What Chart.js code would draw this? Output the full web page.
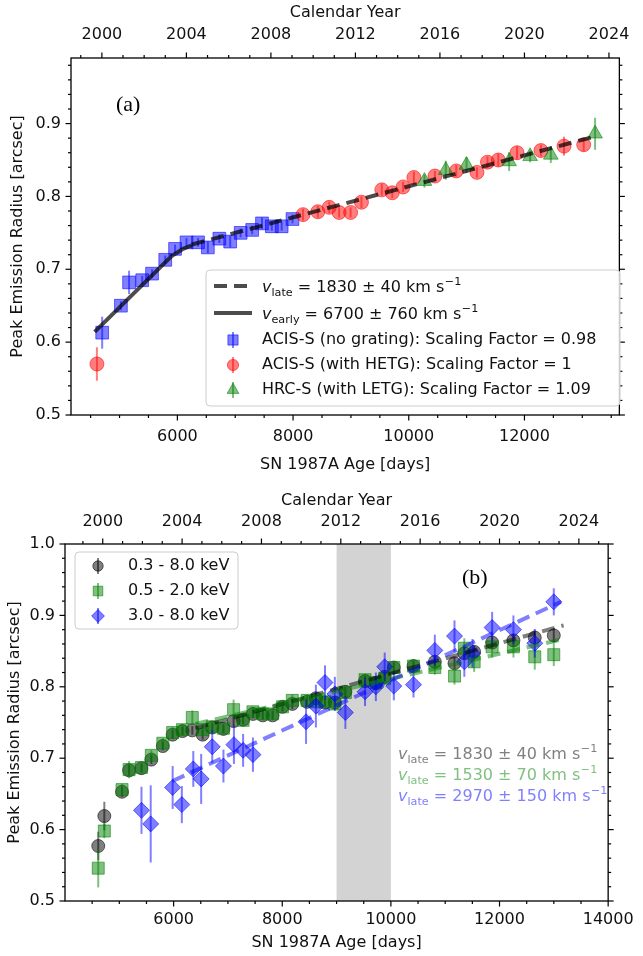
<!DOCTYPE html>
<html>
<head>
<meta charset="utf-8">
<script src="https://cdn.jsdelivr.net/npm/chart.js@4.4.1/dist/chart.umd.min.js"></script>
<style>
  html, body { margin: 0; padding: 0; background: #fff; }
  #wrap { position: relative; width: 643px; height: 956px; overflow: hidden; }
  canvas { position: absolute; left: 0; }
  #panelA { top: 0; }
  #panelB { top: 478px; }
</style>
</head>
<body>
<div id="wrap">
  <canvas id="panelA" width="643" height="480" style="width:643px;height:480px"></canvas>
  <canvas id="panelB" width="643" height="478" style="width:643px;height:478px"></canvas>
</div>
<script>
// ---------- Panel (a): ring radius by instrument ----------
const acisDays   = [4700, 5024, 5165, 5392, 5562, 5790, 5960, 6158, 6357, 6527, 6726, 6913, 7094, 7293, 7463, 7633, 7803, 7990];
const acisRadius = [0.613, 0.650, 0.682, 0.685, 0.694, 0.713, 0.728, 0.737, 0.737, 0.730, 0.742, 0.738, 0.750, 0.754, 0.763, 0.759, 0.759, 0.769];
const acisErr    = [0.022, 0.006, 0.016, 0.006, 0.006, 0.006, 0.006, 0.006, 0.006, 0.008, 0.006, 0.008, 0.006, 0.006, 0.008, 0.006, 0.006, 0.006];

const hetgDays   = [4609, 8173, 8428, 8626, 8796, 8995, 9182, 9534, 9715, 9902, 10089, 10453, 10821, 11179, 11361, 11548, 11872, 12285, 12684, 13024];
const hetgRadius = [0.570, 0.775, 0.779, 0.785, 0.778, 0.778, 0.792, 0.809, 0.805, 0.813, 0.826, 0.828, 0.835, 0.833, 0.847, 0.850, 0.860, 0.863, 0.869, 0.871];
const hetgErr    = [0.023, 0.008, 0.008, 0.008, 0.007, 0.007, 0.008, 0.008, 0.007, 0.007, 0.008, 0.007, 0.008, 0.007, 0.008, 0.009, 0.009, 0.008, 0.013, 0.009];

const letgDays   = [10271, 10640, 10998, 11735, 12098, 12456, 13221];
const letgRadius = [0.821, 0.836, 0.843, 0.848, 0.855, 0.857, 0.886];
const letgErr    = [0.009, 0.013, 0.011, 0.013, 0.008, 0.011, 0.022];

const earlyFitDays   = [4570, 5900, 6100, 6250];
const earlyFitRadius = [0.614, 0.718, 0.728, 0.733];
const lateFitDays    = [6250, 13250];
const lateFitRadius  = [0.734, 0.883];

// ---------- Panel (b): ring radius by energy band ----------
const bandDays = [4612, 4724, 5050, 5180, 5408, 5589, 5801, 5982, 6163, 6344, 6534, 6711, 6917, 7104, 7279, 7460, 7641, 7822, 8004, 8185, 8456, 8619, 8787, 8968, 9162, 9524, 9723, 9886, 10054, 10416, 10809, 11171, 11352, 11533, 11864, 12256, 12649, 12999];
const fullBandRadius = [0.577, 0.619, 0.653, 0.683, 0.686, 0.698, 0.717, 0.733, 0.738, 0.739, 0.733, 0.743, 0.741, 0.752, 0.754, 0.762, 0.760, 0.760, 0.772, 0.776, 0.779, 0.784, 0.778, 0.778, 0.793, 0.808, 0.805, 0.814, 0.827, 0.829, 0.835, 0.833, 0.847, 0.849, 0.862, 0.865, 0.869, 0.872];
const fullBandErr    = [0.020, 0.020, 0.007, 0.007, 0.006, 0.006, 0.006, 0.006, 0.006, 0.006, 0.007, 0.006, 0.006, 0.008, 0.006, 0.006, 0.006, 0.006, 0.006, 0.007, 0.007, 0.007, 0.006, 0.006, 0.007, 0.007, 0.006, 0.007, 0.007, 0.007, 0.008, 0.008, 0.008, 0.009, 0.009, 0.009, 0.010, 0.010];
const softBandRadius = [0.546, 0.598, 0.656, 0.684, 0.687, 0.704, 0.721, 0.736, 0.740, 0.757, 0.740, 0.744, 0.742, 0.768, 0.753, 0.765, 0.762, 0.762, 0.772, 0.781, 0.781, 0.779, 0.779, 0.776, 0.792, 0.810, 0.806, 0.812, 0.827, 0.829, 0.827, 0.815, 0.854, 0.835, 0.856, 0.856, 0.842, 0.845];
const softBandErr    = [0.027, 0.010, 0.008, 0.012, 0.007, 0.007, 0.007, 0.007, 0.007, 0.010, 0.007, 0.007, 0.007, 0.014, 0.007, 0.007, 0.007, 0.007, 0.007, 0.008, 0.008, 0.008, 0.008, 0.008, 0.008, 0.008, 0.008, 0.008, 0.009, 0.010, 0.010, 0.012, 0.014, 0.014, 0.015, 0.015, 0.018, 0.016];

const hardDays   = [5408, 5578, 5982, 6151, 6362, 6507, 6711, 6917, 7110, 7279, 7460, 8438, 8619, 8787, 8968, 9162, 9524, 9723, 9886, 10054, 10416, 10809, 11171, 11352, 11502, 11864, 12256, 12649, 12999];
const hardRadius = [0.627, 0.608, 0.659, 0.635, 0.685, 0.671, 0.716, 0.689, 0.719, 0.711, 0.705, 0.751, 0.773, 0.806, 0.790, 0.764, 0.793, 0.800, 0.828, 0.801, 0.803, 0.851, 0.871, 0.835, 0.847, 0.883, 0.880, 0.861, 0.919];
const hardErr    = [0.033, 0.054, 0.030, 0.026, 0.025, 0.035, 0.023, 0.023, 0.027, 0.023, 0.024, 0.031, 0.030, 0.024, 0.024, 0.023, 0.020, 0.020, 0.020, 0.020, 0.018, 0.022, 0.022, 0.021, 0.020, 0.022, 0.020, 0.020, 0.019];

const fullFitDays = [6400, 13180], fullFitRadius = [0.742, 0.886];
const softFitDays = [6400, 13180], softFitRadius = [0.748, 0.867];
const hardFitDays = [5980, 13131], hardFitRadius = [0.668, 0.919];

const gapDays = [9000, 10000];

// ---------- Axis ranges and tick labels ----------
const ageRangeA = [4161, 13641];
const ageRangeB = [4000, 14000];
const radiusRangeA = [0.5, 0.99];
const radiusRangeB = [0.5, 1.0];
const ageTicksA = [6000, 8000, 10000, 12000];
const ageTicksB = [6000, 8000, 10000, 12000, 14000];
const yearTicks = [2000, 2004, 2008, 2012, 2016, 2020, 2024];
const radiusTicksA = [0.5, 0.6, 0.7, 0.8, 0.9];
const radiusTicksB = [0.5, 0.6, 0.7, 0.8, 0.9, 1.0];

// days since 1987 Feb 23 -> calendar year
const yearOf = d => 1987.146 + d / 365.25;

const FAMILY = '"DejaVu Sans", "Liberation Sans", sans-serif';
const SERIF = '"Liberation Serif", "DejaVu Serif", serif';
const TEXT = '#111';

function pts(xs, ys) { return xs.map((x, i) => ({ x, y: ys[i] })); }
function steps(from, to, step, skip) {
  const out = [];
  for (let v = from; v <= to + 1e-9; v += step) {
    const r = Math.round(v * 1000) / 1000;
    if (!skip.some(s => Math.abs(s - r) < 1e-6)) out.push(r);
  }
  return out;
}

// ---------- plugins ----------
const errorBars = {
  id: 'errorBars',
  beforeDatasetDraw(chart, args) {
    const ds = chart.data.datasets[args.index];
    if (!ds.errors) return;
    const xs = chart.scales[args.meta.xAxisID], ys = chart.scales[args.meta.yAxisID];
    const ctx = chart.ctx;
    ctx.save();
    ctx.strokeStyle = ds.errorColor;
    ctx.lineWidth = 2;
    ds.data.forEach((p, i) => {
      const px = xs.getPixelForValue(p.x);
      ctx.beginPath();
      ctx.moveTo(px, ys.getPixelForValue(p.y - ds.errors[i]));
      ctx.lineTo(px, ys.getPixelForValue(p.y + ds.errors[i]));
      ctx.stroke();
    });
    ctx.restore();
  }
};

const shade = {
  id: 'shade',
  beforeDatasetsDraw(chart, args, opts) {
    if (!opts.range) return;
    const { ctx, chartArea: a } = chart;
    const x = chart.scales.x;
    const x0 = x.getPixelForValue(opts.range[0]), x1 = x.getPixelForValue(opts.range[1]);
    ctx.save();
    ctx.fillStyle = '#d3d3d3';
    ctx.fillRect(x0, a.top, x1 - x0, a.bottom - a.top);
    ctx.restore();
  }
};

const frame = {
  id: 'frame',
  afterDraw(chart, args, opts) {
    const { ctx, chartArea: a } = chart;
    ctx.save();
    ctx.strokeStyle = '#000';
    ctx.lineWidth = 1.2;
    (opts.ticks || []).forEach(sp => {
      const sc = chart.scales[sp.scale];
      const draw = (v, len) => {
        if (v < sc.min - 1e-9 || v > sc.max + 1e-9) return;
        const p = sc.getPixelForValue(v);
        ctx.beginPath();
        if (sp.side === 'bottom') { ctx.moveTo(p, a.bottom); ctx.lineTo(p, a.bottom + len); }
        if (sp.side === 'top')    { ctx.moveTo(p, a.top);    ctx.lineTo(p, a.top - len); }
        if (sp.side === 'left')   { ctx.moveTo(a.left, p);   ctx.lineTo(a.left - len, p); }
        if (sp.side === 'right')  { ctx.moveTo(a.right, p);  ctx.lineTo(a.right + len, p); }
        ctx.stroke();
      };
      sp.major.forEach(v => draw(v, 5.5));
      sp.minor.forEach(v => draw(v, 3));
    });
    ctx.lineWidth = 1.3;
    ctx.strokeRect(a.left, a.top, a.right - a.left, a.bottom - a.top);
    ctx.restore();
  }
};

function drawVelocity(ctx, x, yc, sub, value, color) {
  const y = yc + 6;
  ctx.save();
  ctx.fillStyle = color;
  ctx.textAlign = 'left';
  ctx.textBaseline = 'alphabetic';
  ctx.font = `italic 16px ${FAMILY}`;
  ctx.fillText('v', x, y); x += ctx.measureText('v').width;
  ctx.font = `11.2px ${FAMILY}`;
  ctx.fillText(sub, x, y + 3.5); x += ctx.measureText(sub).width;
  ctx.font = `16px ${FAMILY}`;
  const t = ' = ' + value + ' km s';
  ctx.fillText(t, x, y); x += ctx.measureText(t).width;
  ctx.font = `11.2px ${FAMILY}`;
  ctx.fillText('\u22121', x + 0.5, y - 7.5);
  ctx.restore();
}

function legendBox(ctx, x0, y0, x1, y1) {
  ctx.save();
  ctx.beginPath();
  ctx.roundRect(x0, y0, x1 - x0, y1 - y0, 4);
  ctx.fillStyle = 'rgba(255,255,255,0.8)';
  ctx.fill();
  ctx.strokeStyle = '#cccccc';
  ctx.lineWidth = 1;
  ctx.stroke();
  ctx.restore();
}

function markerHandle(ctx, ds, x, y) {
  ctx.save();
  ctx.strokeStyle = ds.errorColor;
  ctx.lineWidth = 2;
  ctx.beginPath(); ctx.moveTo(x, y - 8); ctx.lineTo(x, y + 8); ctx.stroke();
  ctx.fillStyle = ds.backgroundColor;
  ctx.strokeStyle = ds.borderColor;
  ctx.lineWidth = 1;
  Chart.helpers.drawPoint(ctx, { pointStyle: ds.pointStyle, radius: ds.pointRadius * 0.8, borderWidth: 1, rotation: 0 }, x, y);
  ctx.restore();
}

function plainText(ctx, text, x, y, font, color) {
  ctx.save();
  ctx.font = font;
  ctx.fillStyle = color;
  ctx.textAlign = 'left';
  ctx.textBaseline = 'middle';
  ctx.fillText(text, x, y);
  ctx.restore();
}

function fixedSize(size) {
  return s => { if (s.isHorizontal()) s.height = size; else s.width = size; };
}

function scaleSet(o) {
  const font = { family: FAMILY, size: 16 };
  const hidden = { display: false, drawTicks: false };
  return {
    x: {
      type: 'linear', position: 'bottom', min: o.age[0], max: o.age[1],
      afterBuildTicks: s => { s.ticks = o.ageTicks.map(v => ({ value: v })); },
      afterFit: fixedSize(o.bottomH),
      grid: hidden, border: { display: false },
      ticks: { font, color: TEXT, padding: o.xPad, autoSkip: false, maxRotation: 0, callback: v => String(v) },
      title: { display: true, text: 'SN 1987A Age [days]', font, color: TEXT, padding: { top: 0, bottom: o.xTitlePad } }
    },
    x2: {
      type: 'linear', position: 'top', min: yearOf(o.age[0]), max: yearOf(o.age[1]),
      afterBuildTicks: s => { s.ticks = yearTicks.map(v => ({ value: v })); },
      afterFit: fixedSize(o.topH),
      grid: hidden, border: { display: false },
      ticks: { font, color: TEXT, padding: o.x2Pad, autoSkip: false, maxRotation: 0, callback: v => String(v) },
      title: { display: true, text: 'Calendar Year', font, color: TEXT, padding: { top: o.x2TitlePad, bottom: 0 } }
    },
    y: {
      type: 'linear', position: 'left', min: o.radius[0], max: o.radius[1],
      afterBuildTicks: s => { s.ticks = o.radiusTicks.map(v => ({ value: v })); },
      afterFit: fixedSize(o.leftW),
      grid: hidden, border: { display: false },
      ticks: { font, color: TEXT, padding: 10, autoSkip: false, callback: v => v.toFixed(1) },
      title: { display: true, text: 'Peak Emission Radius [arcsec]', font, color: TEXT, padding: { top: o.yTitlePad, bottom: 0 } }
    },
    y2: {
      type: 'linear', position: 'right', min: o.radius[0], max: o.radius[1],
      afterFit: fixedSize(o.rightW),
      grid: hidden, border: { display: false },
      ticks: { display: false }
    }
  };
}

function tickSpecs(age, ageTicks, radiusTicks, radius) {
  const ageMinor = steps(4500, 14000, 500, ageTicks);
  const yearMinor = steps(1998, 2026, 1, yearTicks);
  const rMinor = steps(0.5, radius[1], 0.02, radiusTicks);
  return [
    { scale: 'x', side: 'bottom', major: ageTicks, minor: ageMinor },
    { scale: 'x2', side: 'top', major: yearTicks, minor: yearMinor },
    { scale: 'y', side: 'left', major: radiusTicks, minor: rMinor },
    { scale: 'y', side: 'right', major: radiusTicks, minor: rMinor }
  ];
}

function markerSet(label, xs, ys, errs, rgb, style, radius, order) {
  return {
    label, data: pts(xs, ys), errors: errs,
    errorColor: `rgba(${rgb},0.5)`,
    backgroundColor: `rgba(${rgb},0.5)`, borderColor: `rgba(${rgb},0.55)`, borderWidth: 1,
    pointStyle: style, pointRadius: radius, pointHoverRadius: radius,
    showLine: false, order
  };
}

function fitLine(label, xs, ys, color, dash, order) {
  return {
    label, data: pts(xs, ys), showLine: true, borderColor: color, borderWidth: 4,
    borderDash: dash, pointRadius: 0, pointHoverRadius: 0, fill: false, tension: 0, order
  };
}

// ---------- Panel (a) ----------
const acisSet = markerSet('ACIS-S (no grating): Scaling Factor = 0.98', acisDays, acisRadius, acisErr, '0,0,255', 'rect', 9, 3);
const hetgSet = markerSet('ACIS-S (with HETG): Scaling Factor = 1', hetgDays, hetgRadius, hetgErr, '255,0,0', 'circle', 7, 2);
const letgSet = markerSet('HRC-S (with LETG): Scaling Factor = 1.09', letgDays, letgRadius, letgErr, '0,128,0', 'triangle', 8.5, 1);

const legendA = {
  id: 'legendA',
  afterDraw(chart) {
    const ctx = chart.ctx;
    legendBox(ctx, 206, 270, 620, 406);
    const hx0 = 214, hx1 = 252, tx = 262;
    const rows = [286, 313, 340, 365, 390];
    ctx.save();
    ctx.strokeStyle = 'rgba(0,0,0,0.7)';
    ctx.lineWidth = 4;
    ctx.setLineDash([13, 7]);
    ctx.beginPath(); ctx.moveTo(hx0, rows[0]); ctx.lineTo(hx1, rows[0]); ctx.stroke();
    ctx.setLineDash([]);
    ctx.beginPath(); ctx.moveTo(hx0, rows[1]); ctx.lineTo(hx1, rows[1]); ctx.stroke();
    ctx.restore();
    drawVelocity(ctx, tx, rows[0], 'late', '1830 \u00b1 40', TEXT);
    drawVelocity(ctx, tx, rows[1], 'early', '6700 \u00b1 760', TEXT);
    [acisSet, hetgSet, letgSet].forEach((ds, i) => {
      markerHandle(ctx, ds, (hx0 + hx1) / 2, rows[2 + i]);
      plainText(ctx, ds.label, tx, rows[2 + i], `16px ${FAMILY}`, TEXT);
    });
    plainText(ctx, '(a)', 116, 105, `22px ${SERIF}`, '#000');
  }
};

new Chart(document.getElementById('panelA'), {
  type: 'scatter',
  data: {
    datasets: [
      fitLine('late', lateFitDays, lateFitRadius, 'rgba(0,0,0,0.7)', [13, 7], 0),
      fitLine('early', earlyFitDays, earlyFitRadius, 'rgba(0,0,0,0.7)', [], 0),
      letgSet, hetgSet, acisSet
    ]
  },
  options: {
    responsive: false, animation: false, devicePixelRatio: 1,
    layout: { padding: 0 },
    scales: scaleSet({ age: ageRangeA, radius: radiusRangeA, ageTicks: ageTicksA, radiusTicks: radiusTicksA,
      bottomH: 65, topH: 58, leftW: 71, rightW: 15, xPad: 12.4, xTitlePad: 6, x2Pad: 13.4, x2TitlePad: 3.4, yTitlePad: 8.4 }),
    plugins: {
      legend: { display: false }, tooltip: { enabled: false },
      frame: { ticks: tickSpecs(ageRangeA, ageTicksA, radiusTicksA, radiusRangeA) }
    }
  },
  plugins: [errorBars, frame, legendA]
});

// ---------- Panel (b) ----------
const fullSet = markerSet('0.3 - 8.0 keV', bandDays, fullBandRadius, fullBandErr, '0,0,0', 'circle', 6.5, 3);
const softSet = markerSet('0.5 - 2.0 keV', bandDays, softBandRadius, softBandErr, '0,128,0', 'rect', 8.5, 2);
const hardSet = markerSet('3.0 - 8.0 keV', hardDays, hardRadius, hardErr, '0,0,255', 'rectRot', 8, 1);

const legendB = {
  id: 'legendB',
  afterDraw(chart) {
    const ctx = chart.ctx;
    legendBox(ctx, 75, 74, 238, 151);
    const rows = [88, 113, 138];
    [fullSet, softSet, hardSet].forEach((ds, i) => {
      markerHandle(ctx, ds, 98, rows[i]);
      plainText(ctx, ds.label, 128, rows[i], `16px ${FAMILY}`, TEXT);
    });
    drawVelocity(ctx, 398, 275, 'late', '1830 \u00b1 40', 'rgb(128,128,128)');
    drawVelocity(ctx, 398, 296, 'late', '1530 \u00b1 70', 'rgb(128,192,128)');
    drawVelocity(ctx, 398, 317, 'late', '2970 \u00b1 150', 'rgb(128,128,255)');
    plainText(ctx, '(b)', 462, 100, `22px ${SERIF}`, '#000');
  }
};

new Chart(document.getElementById('panelB'), {
  type: 'scatter',
  data: {
    datasets: [
      fitLine('hard fit', hardFitDays, hardFitRadius, 'rgba(0,0,255,0.5)', [13, 7], 0),
      fitLine('soft fit', softFitDays, softFitRadius, 'rgba(0,128,0,0.5)', [13, 7], 0),
      fitLine('full fit', fullFitDays, fullFitRadius, 'rgba(0,0,0,0.5)', [13, 7], 0),
      hardSet, softSet, fullSet
    ]
  },
  options: {
    responsive: false, animation: false, devicePixelRatio: 1,
    layout: { padding: 0 },
    scales: scaleSet({ age: ageRangeB, radius: radiusRangeB, ageTicks: ageTicksB, radiusTicks: radiusTicksB,
      bottomH: 55, topH: 66, leftW: 65, rightW: 25, xPad: 9.4, xTitlePad: 3.4, x2Pad: 12.4, x2TitlePad: 13.4, yTitlePad: 5.4 }),
    plugins: {
      legend: { display: false }, tooltip: { enabled: false },
      shade: { range: gapDays },
      frame: { ticks: tickSpecs(ageRangeB, ageTicksB, radiusTicksB, radiusRangeB) }
    }
  },
  plugins: [shade, errorBars, frame, legendB]
});
</script>
</body>
</html>
